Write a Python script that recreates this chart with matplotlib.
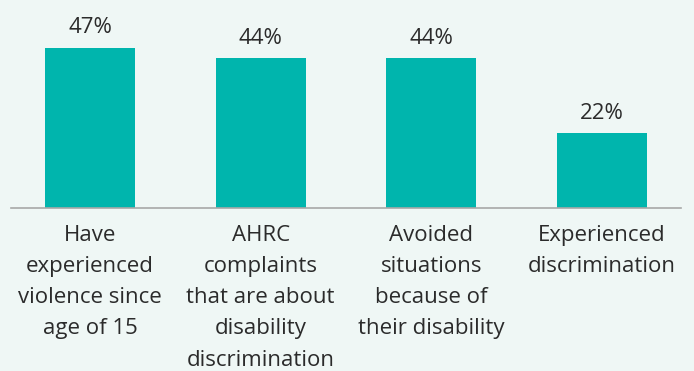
import matplotlib
matplotlib.use("Agg")
import matplotlib.pyplot as plt

categories = [
    "Have\nexperienced\nviolence since\nage of 15",
    "AHRC\ncomplaints\nthat are about\ndisability\ndiscrimination",
    "Avoided\nsituations\nbecause of\ntheir disability",
    "Experienced\ndiscrimination",
]
values = [47, 44, 44, 22]
value_labels = ["47%", "44%", "44%", "22%"]

bg = "#eff7f5"
bar_color = "#00b5ad"
text_color = "#2b2b2b"

plt.rcParams["font.family"] = ["Open Sans", "DejaVu Sans"]

fig = plt.figure(figsize=(6.94, 3.71), dpi=100, facecolor=bg)
ax = fig.add_axes([11 / 694, 1 - 208 / 371, 670 / 694, 208 / 371])
ax.set_facecolor(bg)

x = list(range(len(values)))
ax.bar(x, values, width=0.527, color=bar_color, zorder=2)

ax.set_xlim(-0.463, 3.463)
ax.set_ylim(0, 61.1)

for xi, v, lab in zip(x, values, value_labels):
    ax.text(xi, v + 2.8, lab, ha="center", va="bottom", fontsize=16, color=text_color)

ax.set_xticks(x)
ax.set_xticklabels(categories, fontsize=16, color=text_color, linespacing=1.64)
ax.tick_params(axis="x", length=0, pad=12)
ax.set_yticks([])

for side in ["top", "right", "left"]:
    ax.spines[side].set_visible(False)
ax.spines["bottom"].set_color("#a8a8a8")
ax.spines["bottom"].set_linewidth(1.2)

fig.savefig("out.png", dpi=100, facecolor=bg)
